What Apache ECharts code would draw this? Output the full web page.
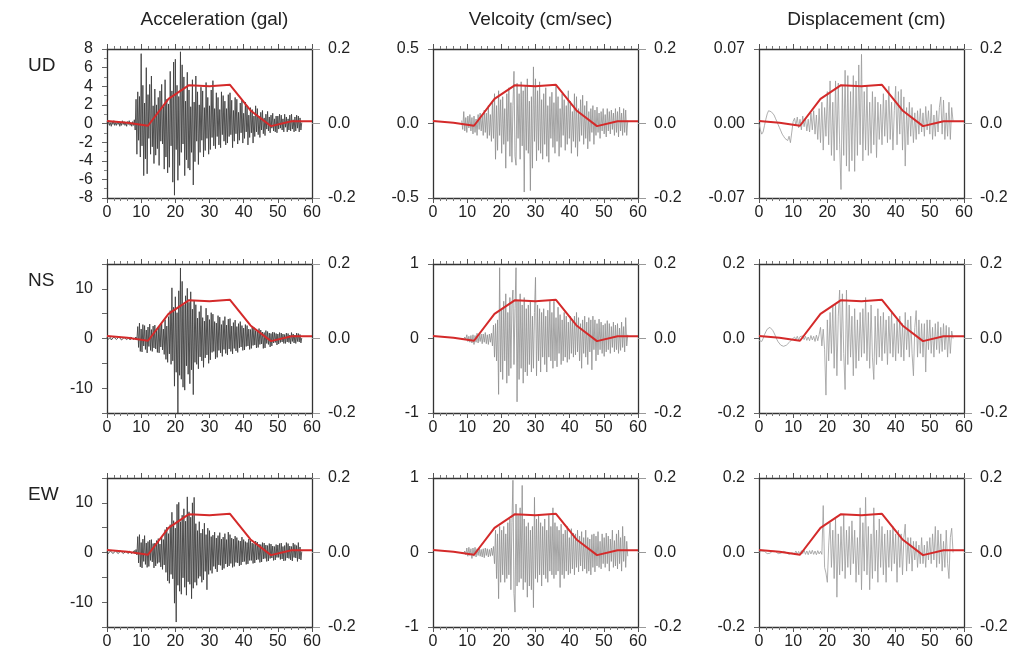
<!DOCTYPE html>
<html>
<head>
<meta charset="utf-8">
<script src="https://cdn.jsdelivr.net/npm/echarts@6/dist/echarts.min.js"></script>
<style>
html,body{margin:0;padding:0;background:#fff;}
#chart{width:1033px;height:662px;}
</style>
</head>
<body>
<div id="chart"></div>
<script>
// Column / row headings
const columnTitles = ['Acceleration (gal)', 'Velcoity (cm/sec)', 'Displacement (cm)'];
const rowNames = ['UD', 'NS', 'EW'];

// Red curve on the right-hand axis (same for every panel)
const envT = [0, 6, 12, 18, 24, 30, 36, 42, 48, 54, 60];
const envV = [0.007, 0.002, -0.006, 0.066, 0.103, 0.100, 0.104, 0.035, -0.007, 0.006, 0.006];

// Acceleration records: start 0 s, step 0.25 s
const accStart = 0, accStep = 0.25;
const accUD = [
0.2,-0.1,0.3,-0.2, 0.1,-0.3,0.2,-0.1, 0.3,-0.2,0.1,-0.2, 0.2,-0.1,0.2,-0.3,
0.1,-0.2,0.3,-0.1, 0.2,-0.2,0.1,-0.3, 0.2,-0.1,0.3,-0.2, 0.1,-0.3,0.2,-0.2,
0.4,-0.7,2.6,-3.3, 3.4,-1.8,2.9,-3.6, 7.5,-2.4,4.1,-5.6, 2.2,-3.8,6.0,-5.4,
3.1,-1.6,4.2,-3.3, 5.1,-2.5,1.9,-4.3, 3.7,-3.4,2.0,-2.7, 2.8,-4.5,3.5,-1.9,
4.2,-2.2,1.8,-4.9, 4.7,-3.6,2.6,-5.3, 2.1,-4.7,5.6,-2.4, 3.5,-6.3,6.6,-7.7,
6.9,-2.8,4.1,-6.1, 2.9,-4.5,7.7,-3.1, 6.3,-2.2,5.0,-5.6, 2.4,-3.9,5.5,-4.8,
3.6,-5.0,1.8,-3.1, 4.7,-6.6,2.3,-4.1, 5.1,-1.9,3.4,-4.4, 2.0,-3.1,3.9,-1.8,
3.5,-3.6,1.7,-2.9, 4.4,-1.6,2.8,-3.3, 1.9,-2.8,3.6,-1.5, 4.6,-2.4,1.6,-2.7,
3.3,-1.4,2.8,-2.3, 1.5,-2.6,3.4,-1.2, 3.0,-1.9,2.4,-2.3, 1.6,-2.1,3.1,-1.4,
3.3,-1.2,2.5,-2.6, 1.4,-1.9,2.8,-1.1, 2.6,-2.2,1.2,-1.8, 2.2,-1.0,2.5,-2.1,
1.1,-1.6,2.3,-0.9, 1.9,-2.3,0.9,-1.5, 1.7,-1.0,1.5,-2.1, 0.8,-1.4,1.9,-0.9,
1.6,-1.2,0.8,-1.5, 1.2,-0.7,1.4,-1.1, 0.6,-1.3,1.0,-0.6, 1.3,-0.8,0.7,-1.0,
0.9,-0.5,1.1,-0.8, 0.5,-0.9,0.8,-1.0, 0.8,-0.6,1.0,-0.5, 0.9,-0.7,0.5,-0.9,
1.0,-0.4,0.7,-0.9, 0.5,-0.7,0.9,-0.8, 1.0,-0.6,0.4,-0.9, 0.7,-0.8,0.9,-0.5,
0.8,-0.9,0.6,-0.7, 0.1
];
const accNS = [
0.3,-0.2,0.2,-0.1, 0.2,-0.3,0.1,-0.2, 0.3,-0.1,0.2,-0.2, 0.1,-0.2,0.3,-0.1,
0.2,-0.3,0.1,-0.2, 0.2,-0.1,0.3,-0.2, 0.1,-0.2,0.2,-0.3, 0.3,-0.1,0.2,-0.2,
0.1,-0.4,0.3,-0.2,
2.4,-1.8,3.1,-2.6, 1.9,-2.7,2.8,-1.5, 2.6,-2.2,1.7,-2.9, 2.3,-1.6,2.9,-2.4,
1.8,-2.6,2.5,-1.9, 2.7,-2.1,1.6,-2.8, 2.2,-2.9,2.6,-1.7, 3.0,-2.3,1.9,-3.2,
3.8,-4.2,2.5,-4.8, 4.4,-3.1,5.6,-5.2, 10.2,-4.5,6.3,-9.6, 8.4,-6.8,5.2,-15.0,
9.6,-7.4,14.2,-8.2, 11.5,-9.8,6.8,-10.4, 8.6,-5.5,10.1,-7.2, 7.3,-9.1,9.4,-6.3,
5.9,-11.3,7.6,-4.8, 6.8,-5.2,4.1,-6.1, 5.4,-3.7,6.6,-4.5, 4.2,-5.8,3.5,-3.9,
6.1,-3.3,4.7,-5.0, 3.8,-4.3,5.2,-2.8, 4.9,-2.6,3.4,-4.1, 3.1,-3.8,4.6,-2.4,
4.3,-2.9,2.8,-3.6, 3.6,-2.2,4.4,-3.0, 2.7,-3.3,3.9,-2.1, 4.0,-2.6,2.5,-3.1,
3.2,-2.0,3.7,-2.5, 2.4,-2.8,3.0,-1.9, 3.4,-1.7,2.6,-2.4, 2.1,-2.3,2.8,-1.6,
2.6,-1.5,1.9,-2.2, 1.8,-2.0,2.4,-1.4, 2.2,-1.3,1.6,-1.9, 1.5,-1.8,2.0,-1.2,
1.7,-1.1,1.3,-2.0, 1.2,-1.9,1.6,-1.0, 1.4,-1.2,1.1,-1.7, 1.0,-1.5,1.3,-0.9,
1.2,-0.8,1.0,-1.3, 0.9,-1.1,1.2,-0.8, 1.1,-0.7,0.9,-1.0, 0.8,-1.0,1.1,-0.7,
1.0,-0.8,0.7,-1.1, 1.2,-0.6,0.9,-0.9, 0.7,-1.0,1.1,-0.6, 1.0,-0.7,0.8,-0.9,
0.1
];
const accEW = [
0.2,-0.3,0.1,-0.2, 0.3,-0.1,0.2,-0.2, 0.1,-0.2,0.3,-0.1, 0.2,-0.2,0.1,-0.3,
0.3,-0.1,0.2,-0.2, 0.1,-0.3,0.2,-0.1, 0.2,-0.2,0.3,-0.1, 0.1,-0.2,0.2,-0.3,
0.4,-0.3,0.6,-0.5,
3.2,-2.1,3.6,-2.9, 2.0,-3.1,2.7,-1.8, 3.4,-2.4,1.9,-3.0, 2.2,-2.8,2.5,-1.6,
2.6,-1.9,1.8,-3.1, 1.9,-2.7,2.4,-2.2, 2.8,-2.0,1.7,-2.9, 3.1,-3.4,2.6,-2.5,
4.6,-4.0,5.1,-5.7, 3.8,-6.2,5.6,-4.4, 8.1,-5.3,6.4,-10.2, 4.9,-14.0,9.7,-6.6,
10.1,-7.8,6.2,-8.4, 7.5,-5.1,8.8,-7.0, 6.3,-8.6,11.2,-5.9, 8.2,-6.4,7.1,-9.3,
10.0,-7.2,11.1,-6.0, 5.8,-6.6,4.4,-5.2, 6.2,-4.8,3.9,-6.0, 4.7,-5.5,5.9,-3.8,
3.6,-7.5,4.9,-4.4, 4.4,-3.6,3.2,-4.2, 3.5,-2.8,4.1,-3.3, 2.9,-3.9,3.4,-2.5,
4.0,-2.6,2.7,-3.5, 3.1,-3.2,3.8,-2.3, 2.6,-2.9,4.1,-2.7, 3.6,-2.2,2.9,-3.0,
2.7,-2.8,3.3,-2.0, 3.0,-2.1,2.4,-2.7, 2.3,-2.5,3.1,-1.9, 2.6,-1.8,2.2,-2.4,
2.0,-2.3,2.7,-1.6, 2.4,-1.6,1.9,-2.2, 1.8,-2.1,2.3,-1.5, 2.1,-1.4,1.7,-2.0,
1.6,-1.9,2.0,-1.3, 1.9,-1.2,1.5,-1.8, 1.4,-1.7,1.8,-1.2, 1.7,-1.1,1.3,-1.6,
1.2,-1.5,1.6,-1.0, 1.5,-1.0,1.8,-1.4, 1.9,-1.3,1.2,-1.7, 1.4,-1.6,2.0,-1.1,
1.8,-1.2,1.3,-1.5, 1.2,-1.7,1.9,-1.0, 1.6,-1.1,1.4,-1.8, 2.0,-1.3,1.1,-1.5,
0.2
];

// Velocity records: start 8.4 s, step 0.3 s
const velStart = 8.4, velStep = 0.3;
const velUD = [
0.02,-0.04,0.08,-0.05,0.04,-0.06,0.05,-0.03,0.06,-0.05,
0.04,-0.07,0.05,-0.06,0.03,-0.08,0.06,-0.04,0.07,-0.05,
0.05,-0.08,0.09,-0.06,0.07,-0.10,0.12,-0.08,0.06,-0.12,
0.15,-0.10,0.20,-0.24,0.12,-0.18,0.22,-0.08,0.16,-0.20,
0.18,-0.14,0.10,-0.30,0.20,-0.12,0.24,-0.22,0.14,-0.26,
0.12,0.35,-0.22,-0.28,0.27,-0.10,0.20,-0.24,0.28,-0.15,
0.22,-0.46,0.25,-0.18,0.30,-0.20,0.15,-0.45,0.18,-0.30,
0.38,-0.12,0.30,-0.25,0.22,-0.18,0.28,-0.20,0.16,-0.24,
0.20,-0.14,0.24,-0.22,0.12,-0.26,0.18,-0.10,0.21,-0.16,
0.14,-0.20,0.25,-0.12,0.18,-0.22,0.10,-0.16,0.20,-0.08,
0.16,-0.18,0.12,-0.14,0.22,-0.10,0.15,-0.20,0.08,-0.12,
0.20,-0.16,0.18,-0.22,0.10,-0.12,0.16,-0.08,0.19,-0.14,
0.12,-0.10,0.15,-0.17,0.08,-0.12,0.10,-0.06,0.12,-0.14,
0.09,-0.08,0.11,-0.06,0.07,-0.10,0.08,-0.05,0.10,-0.07,
0.06,-0.09,0.10,-0.05,0.08,-0.07,0.09,-0.04,0.07,-0.08,
0.10,-0.06,0.08,-0.09,0.11,-0.05,0.07,-0.08,0.10,-0.06,
0.09,-0.08,0.02
];
const velNS = [
0.00,0.01,-0.01,0.02,-0.01,0.05,-0.04,0.03,-0.05,0.04,
-0.06,0.05,-0.08,0.04,-0.05,0.07,-0.06,0.05,-0.04,0.06,
-0.07,0.06,-0.05,0.08,-0.07,0.05,-0.08,0.06,-0.05,0.07,
-0.10,0.18,-0.25,0.20,-0.30,0.25,-0.75,0.95,-0.45,0.40,
-0.55,0.50,-0.30,0.60,-0.60,0.35,-0.50,0.55,-0.40,0.45,
0.65,-0.35,0.40,0.95,-0.85,0.50,-0.55,0.60,-0.40,0.45,
-0.60,0.55,-0.45,0.40,-0.50,0.45,-0.35,0.50,-0.45,0.30,
-0.40,0.35,0.82,-0.50,0.45,-0.30,0.40,-0.45,0.35,-0.25,
0.40,-0.35,0.30,-0.45,0.38,-0.25,0.50,-0.30,0.35,-0.40,
0.50,-0.30,0.28,-0.38,0.42,-0.20,0.32,-0.35,0.25,-0.30,
0.35,-0.25,0.30,-0.32,0.22,-0.28,0.30,-0.20,0.26,-0.25,
0.30,-0.22,0.35,-0.18,0.28,-0.30,0.20,-0.40,0.25,-0.20,
0.30,-0.25,0.22,-0.35,0.28,-0.18,0.25,-0.42,0.30,-0.15,
0.25,-0.30,0.20,-0.22,0.26,-0.15,0.22,-0.20,0.18,-0.24,
0.20,-0.18,0.24,-0.15,0.20,-0.20,0.16,-0.12,0.22,-0.18,
0.18,-0.15,0.20,-0.20,0.14,-0.16,0.22,-0.12,0.16,-0.18,
0.28,-0.10,0.05
];
const velEW = [
0.00,0.01,-0.01,0.02,-0.03,0.06,-0.05,0.07,-0.04,0.05,
-0.08,0.06,-0.05,0.07,-0.06,0.05,-0.04,0.06,-0.05,0.04,
-0.06,0.05,-0.07,0.06,-0.04,0.05,-0.06,0.04,-0.05,0.06,
-0.04,0.08,-0.15,0.30,-0.35,0.25,-0.62,0.35,-0.40,0.30,
-0.30,0.35,-0.40,0.25,-0.35,0.40,-0.30,0.45,-0.50,0.40,
0.97,-0.55,-0.80,0.65,-0.45,0.50,-0.40,0.60,-0.35,0.90,
-0.50,0.45,-0.40,0.35,-0.60,0.40,-0.45,0.30,-0.50,0.35,
-0.74,0.74,-0.35,0.45,-0.40,0.50,-0.30,0.40,-0.45,0.35,
-0.30,0.45,-0.35,0.30,-0.40,0.50,-0.25,0.35,-0.30,0.60,
-0.35,0.40,-0.30,0.35,-0.25,0.30,-0.47,0.38,-0.30,0.25,
-0.35,0.30,-0.25,0.35,-0.30,0.20,-0.28,0.32,-0.22,0.26,
-0.30,0.25,-0.20,0.30,-0.26,0.22,-0.18,0.28,-0.25,0.20,
-0.22,0.30,-0.28,0.20,-0.25,0.18,-0.30,0.24,-0.20,0.25,
-0.26,0.22,-0.18,0.28,-0.20,0.15,-0.22,0.25,-0.15,0.20,
-0.20,0.26,-0.15,0.22,-0.25,0.18,-0.12,0.30,-0.20,0.16,
-0.18,0.25,-0.22,0.30,-0.15,0.20,-0.25,0.35,-0.12,0.22,
-0.20,0.15,-0.05
];

// Displacement records: start 0 s, step 0.4 s
const dispStart = 0, dispStep = 0.4;
const dispUD = [
0.000,-0.006,-0.010,-0.008,-0.002, 0.004,0.009,0.012,0.013,0.011,
0.011,0.008,0.005,0.002,-0.001, -0.004,-0.007,-0.010,-0.012,-0.014,
-0.015,-0.016,-0.012,-0.018,-0.008, 0.002,0.005,-0.002,0.006,-0.004,
0.004,-0.006,0.007,-0.003,0.005, -0.007,0.004,-0.008,0.010,-0.006,
0.012,-0.010,0.008,-0.015,0.014, -0.018,0.020,-0.025,0.015,-0.012,
0.030,-0.020,0.040,-0.030,0.020, -0.035,0.040,-0.025,0.038,-0.020,
-0.062,0.035,-0.030,0.050,-0.040, 0.045,-0.045,0.030,-0.035,0.045,
-0.045,0.040,-0.030,0.055,-0.020, 0.065,-0.035,0.030,-0.025,0.035,
-0.030,0.020,-0.028,0.030,-0.020, 0.025,-0.032,0.020,-0.015,0.018,
-0.020,0.028,-0.012,0.022,-0.018, 0.035,-0.015,0.020,-0.025,0.012,
0.035,-0.020,0.030,-0.010,0.032, -0.025,0.025,-0.040,0.015,-0.020,
0.020,-0.012,0.015,-0.018,0.010, -0.015,0.012,-0.010,0.014,-0.008,
0.010,-0.012,0.016,-0.006,0.012, -0.010,0.018,-0.015,0.008,-0.012,
0.012,-0.008,0.015,0.025,-0.010, 0.022,-0.015,0.010,-0.012,0.020,
-0.015,0.015,0.002
];
const dispNS = [
-0.005,-0.010,-0.008,0.000,0.010, 0.018,0.025,0.029,0.030,0.028,
0.022,0.015,0.007,-0.002,-0.009, -0.014,-0.018,-0.020,-0.021,-0.020,
-0.018,-0.015,-0.011,-0.007,-0.003, 0.000,0.004,-0.003,0.006,-0.004,
0.005,0.002,0.007,-0.003,0.006, -0.005,0.004,-0.006,0.008,-0.004,
0.006,-0.008,0.009,-0.006,0.010, 0.030,-0.020,0.025,-0.030,-0.152,
0.050,-0.060,0.070,-0.040,0.090, -0.080,0.095,-0.100,0.060,0.130,
-0.060,0.120,-0.040,-0.137,0.130, -0.070,0.090,-0.050,0.060,-0.100,
0.080,-0.080,0.050,-0.060,0.070, -0.050,0.080,-0.040,0.110,-0.060,
0.070,-0.080,0.090,-0.050,-0.110, 0.060,-0.070,0.080,-0.050,0.060,
-0.060,0.070,-0.040,0.050,-0.070, 0.060,-0.040,0.070,-0.050,0.040,
-0.060,0.050,-0.040,0.060,-0.050, 0.040,-0.060,0.070,-0.030,0.050,
-0.050,0.060,-0.040,-0.100,0.030, 0.075,-0.050,0.050,-0.040,0.040,
-0.050,0.040,-0.090,0.050,-0.030, 0.050,-0.040,0.030,-0.050,0.040,
-0.030,0.045,-0.040,0.030,-0.035, 0.040,-0.030,0.035,-0.050,0.030,
-0.040,0.020,0.000
];
const dispEW = [
0.000,0.002,0.004,0.005,0.003, 0.000,-0.003,-0.004,-0.002,0.001,
0.004,0.005,0.003,0.000,-0.003, -0.004,-0.002,0.001,0.003,0.002,
0.000,-0.003,-0.005,-0.004,-0.001, 0.002,-0.003,0.004,-0.005,0.003,
-0.004,0.005,-0.003,0.006,-0.005, 0.004,-0.006,0.005,-0.004,0.006,
-0.005,0.004,-0.006,0.005,-0.004, 0.003,-0.005,0.126,-0.040,-0.055,
-0.080,0.020,0.080,-0.040,0.060, -0.070,0.090,-0.120,0.050,-0.060,
0.070,-0.050,0.100,-0.070,0.060, -0.040,0.070,-0.060,0.085,-0.030,
0.060,-0.080,0.040,-0.060,0.120, -0.100,0.080,-0.050,0.148,-0.060,
0.070,-0.100,0.050,-0.070,0.120, -0.050,0.060,-0.080,0.090,-0.040,
0.070,-0.060,0.050,-0.080,0.060, -0.040,0.060,-0.050,0.070,-0.030,
0.050,-0.080,0.060,-0.040,0.050, -0.060,0.040,0.076,-0.050,0.040,
-0.030,0.040,-0.050,0.030,-0.020, 0.030,-0.040,0.020,-0.030,0.040,
-0.030,0.020,-0.040,0.030,-0.020, 0.040,-0.030,0.050,-0.020,0.070,
-0.040,0.060,-0.030,0.050,-0.050, 0.030,-0.040,0.060,-0.030,-0.070,
0.040,0.065,0.000
];

// Left-axis ranges per row and column
const leftAxes = [
  [ {min:-8, max:8, interval:2, minor:2, dec:0},   {min:-0.5, max:0.5, interval:0.5, minor:0, dec:1}, {min:-0.07, max:0.07, interval:0.07, minor:0, dec:2} ],
  [ {min:-15, max:15, interval:5, minor:0, dec:0, every:10}, {min:-1, max:1, interval:1, minor:0, dec:0}, {min:-0.2, max:0.2, interval:0.2, minor:0, dec:1} ],
  [ {min:-15, max:15, interval:5, minor:0, dec:0, every:10}, {min:-1, max:1, interval:1, minor:0, dec:0}, {min:-0.2, max:0.2, interval:0.2, minor:0, dec:1} ]
];

const records = [
  [ {s:accStart, d:accStep, v:accUD}, {s:velStart, d:velStep, v:velUD}, {s:dispStart, d:dispStep, v:dispUD} ],
  [ {s:accStart, d:accStep, v:accNS}, {s:velStart, d:velStep, v:velNS}, {s:dispStart, d:dispStep, v:dispNS} ],
  [ {s:accStart, d:accStep, v:accEW}, {s:velStart, d:velStep, v:velEW}, {s:dispStart, d:dispStep, v:dispEW} ]
];
const traceColors = ['rgba(60,60,60,0.85)', '#8e8e8e', '#9a9a9a'];
const traceWidths = [1, 0.8, 0.8];

// Panel geometry
const colLeft = [107, 433, 759];
const rowTop = [49, 264, 478];
const panelW = 205, panelH = 149;

const FONT = 'Liberation Sans, Arial, sans-serif';
const TICK_FONT = 16;
const frame = { show: true, onZero: false, lineStyle: { color: '#333', width: 1.3 } };

const grid = [], xAxis = [], yAxis = [], series = [], title = [];

columnTitles.forEach((t, c) => {
  title.push({ text: t, left: colLeft[c] + panelW / 2, top: 5, textAlign: 'center',
    textStyle: { fontFamily: FONT, fontSize: 19, fontWeight: 'normal', color: '#222' } });
});
rowNames.forEach((t, r) => {
  title.push({ text: t, left: 23, top: rowTop[r] + 2,
    textStyle: { fontFamily: FONT, fontSize: 19, fontWeight: 'normal', color: '#222' } });
});

let g = 0;
for (let r = 0; r < 3; r++) {
  for (let c = 0; c < 3; c++) {
    grid.push({ left: colLeft[c], top: rowTop[r], width: panelW, height: panelH });
    const xb = xAxis.length;
    xAxis.push({
      type: 'value', gridIndex: g, position: 'bottom', min: 0, max: 60, interval: 10,
      axisLine: frame, splitLine: { show: false },
      axisTick: { show: true, length: 5, lineStyle: { color: '#555' } },
      minorTick: { show: true, splitNumber: 5, length: 3, lineStyle: { color: '#777' } },
      axisLabel: { fontFamily: FONT, fontSize: TICK_FONT, color: '#222', margin: 7 }
    });
    xAxis.push({
      type: 'value', gridIndex: g, position: 'top', min: 0, max: 60, interval: 10,
      axisLine: frame, splitLine: { show: false },
      axisTick: { show: true, length: 5, lineStyle: { color: '#555' } },
      minorTick: { show: true, splitNumber: 5, length: 3, lineStyle: { color: '#777' } },
      axisLabel: { show: false }
    });
    const la = leftAxes[r][c];
    const yl = yAxis.length;
    yAxis.push({
      type: 'value', gridIndex: g, position: 'left', min: la.min, max: la.max, interval: la.interval,
      axisLine: frame, splitLine: { show: false },
      axisTick: { show: true, length: 5, lineStyle: { color: '#666' } },
      minorTick: { show: la.minor > 0, splitNumber: la.minor || 1, length: 3, lineStyle: { color: '#888' } },
      axisLabel: {
        fontFamily: FONT, fontSize: TICK_FONT, color: '#222', margin: 14,
        formatter: v => {
          if (la.every && Math.abs(Math.round(v) % la.every) !== 0) return '';
          return (Math.abs(v) < 1e-9 ? 0 : v).toFixed(la.dec);
        }
      }
    });
    yAxis.push({
      type: 'value', gridIndex: g, position: 'right', min: -0.2, max: 0.2, interval: 0.2,
      axisLine: frame, splitLine: { show: false },
      axisTick: { show: true, length: 8, lineStyle: { color: '#999' } },
      axisLabel: { fontFamily: FONT, fontSize: TICK_FONT, color: '#222', margin: 16,
        formatter: v => (Math.abs(v) < 1e-9 ? 0 : v).toFixed(1) }
    });
    const rec = records[r][c];
    series.push({
      type: 'line', xAxisIndex: xb, yAxisIndex: yl, showSymbol: false, symbol: 'none',
      sampling: null, animation: false, z: 2,
      lineStyle: { color: traceColors[c], width: traceWidths[c] },
      data: rec.v.map((v, i) => [+(rec.s + i * rec.d).toFixed(2), v])
    });
    series.push({
      type: 'line', xAxisIndex: xb, yAxisIndex: yl + 1, showSymbol: false, symbol: 'none',
      animation: false, z: 5,
      lineStyle: { color: '#d42a2a', width: 2 },
      data: envT.map((t, i) => [t, envV[i]])
    });
    g++;
  }
}

const chart = echarts.init(document.getElementById('chart'), null, { renderer: 'canvas' });
chart.setOption({ animation: false, backgroundColor: '#fff', title, grid, xAxis, yAxis, series });
</script>
</body>
</html>
